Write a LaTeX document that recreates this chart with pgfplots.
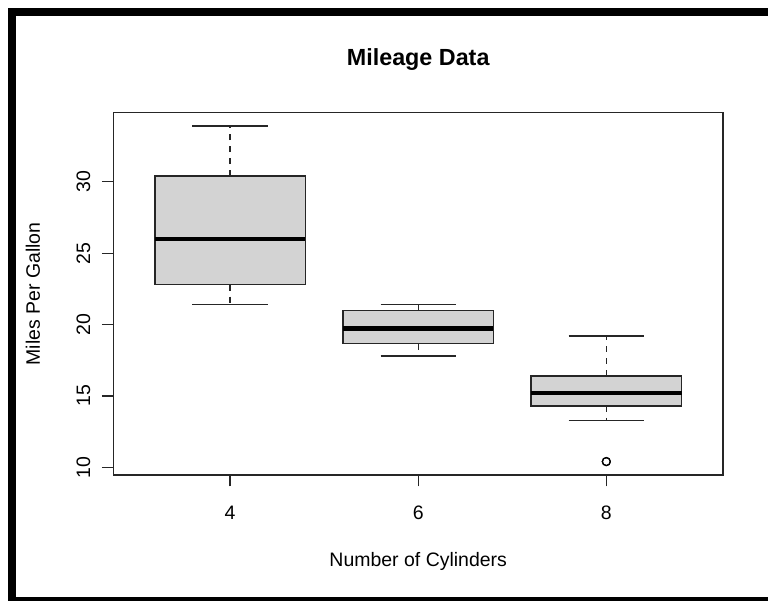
\documentclass[border=0pt]{standalone}
\usepackage{pgfplots}
\pgfplotsset{compat=1.18}
\usepackage{fontspec}
\setmainfont{Liberation Sans}
\definecolor{boxgray}{HTML}{D3D3D3}
\begin{document}
\begin{tikzpicture}
\fill[white] (0,0) rectangle (576pt,450.75pt);
\fill[black] (6pt,0) rectangle (12pt,444.75pt);
\fill[black] (6pt,438.75pt) rectangle (576pt,444.75pt);
\fill[black] (6pt,0) rectangle (576pt,3pt);
\begin{axis}[
 at={(85.1pt,94.5pt)}, anchor=south west,
 scale only axis, width=457.1pt, height=271.7pt,
 xmin=0.38, xmax=3.62, ymin=9.46, ymax=34.84,
 xtick={1,2,3}, xticklabels={4,6,8},
 ytick={10,15,20,25,30},
 tick align=outside, xtick pos=bottom, ytick pos=left,
 major tick length=8.6pt,
 every tick/.style={black!85, line width=1pt},
 axis line style={black!85, line width=1pt},
 font=\fontsize{14.6}{17}\selectfont,
 tick label style={font=\fontsize{14.6}{17}\selectfont},
 /pgf/number format/assume math mode=true,
 xticklabel style={anchor=base, inner sep=0pt},
 xticklabel shift=24.6pt,
 yticklabel style={rotate=90, anchor=base, inner sep=0pt},
 yticklabel shift=8.9pt,
 title={Mileage Data},
 title style={font=\fontsize{17.5}{21}\selectfont\bfseries, at={(axis description cs:0.5,1.1096)}, anchor=base},
 xlabel={Number of Cylinders},
 xlabel style={at={(axis description cs:0.5,-0.2539)}, anchor=base},
 ylabel={Miles Per Gallon},
 ylabel style={at={(axis description cs:-0.1206,0.5)}, anchor=base},
 wh/.style={black!85, line width=1pt, dash pattern=on 4.5pt off 4.5pt},
 st/.style={black!85, line width=1pt},
 bx/.style={fill=boxgray, draw=black!85, line width=1pt},
 md/.style={black, line width=3.6pt},
]
% cyl 4: lw 21.4, lq 22.8, med 26.0, uq 30.4, uw 33.9
\addplot[wh] coordinates {(1,30.4) (1,33.9)};
\addplot[wh] coordinates {(1,22.8) (1,21.4)};
\addplot[st] coordinates {(0.8,33.9) (1.2,33.9)};
\addplot[st] coordinates {(0.8,21.4) (1.2,21.4)};
\addplot[bx] coordinates {(0.6,22.8) (1.4,22.8) (1.4,30.4) (0.6,30.4)} -- cycle;
\addplot[md] coordinates {(0.6,26.0) (1.4,26.0)};
% cyl 6: lw 17.8, lq 18.65, med 19.7, uq 21.0, uw 21.4
\addplot[wh] coordinates {(2,21.0) (2,21.4)};
\addplot[wh] coordinates {(2,18.65) (2,17.8)};
\addplot[st] coordinates {(1.8,21.4) (2.2,21.4)};
\addplot[st] coordinates {(1.8,17.8) (2.2,17.8)};
\addplot[bx] coordinates {(1.6,18.65) (2.4,18.65) (2.4,21.0) (1.6,21.0)} -- cycle;
\addplot[md] coordinates {(1.6,19.7) (2.4,19.7)};
% cyl 8: lw 13.3, lq 14.3, med 15.2, uq 16.4, uw 19.2, outliers 10.4
\addplot[wh] coordinates {(3,16.4) (3,19.2)};
\addplot[wh] coordinates {(3,14.3) (3,13.3)};
\addplot[st] coordinates {(2.8,19.2) (3.2,19.2)};
\addplot[st] coordinates {(2.8,13.3) (3.2,13.3)};
\addplot[bx] coordinates {(2.6,14.3) (3.4,14.3) (3.4,16.4) (2.6,16.4)} -- cycle;
\addplot[md] coordinates {(2.6,15.2) (3.4,15.2)};
\addplot[only marks, mark=o, mark size=3pt, black, mark options={line width=0.9pt}] coordinates {(3,10.4) (3,10.4)};
\end{axis}
\end{tikzpicture}
\end{document}
